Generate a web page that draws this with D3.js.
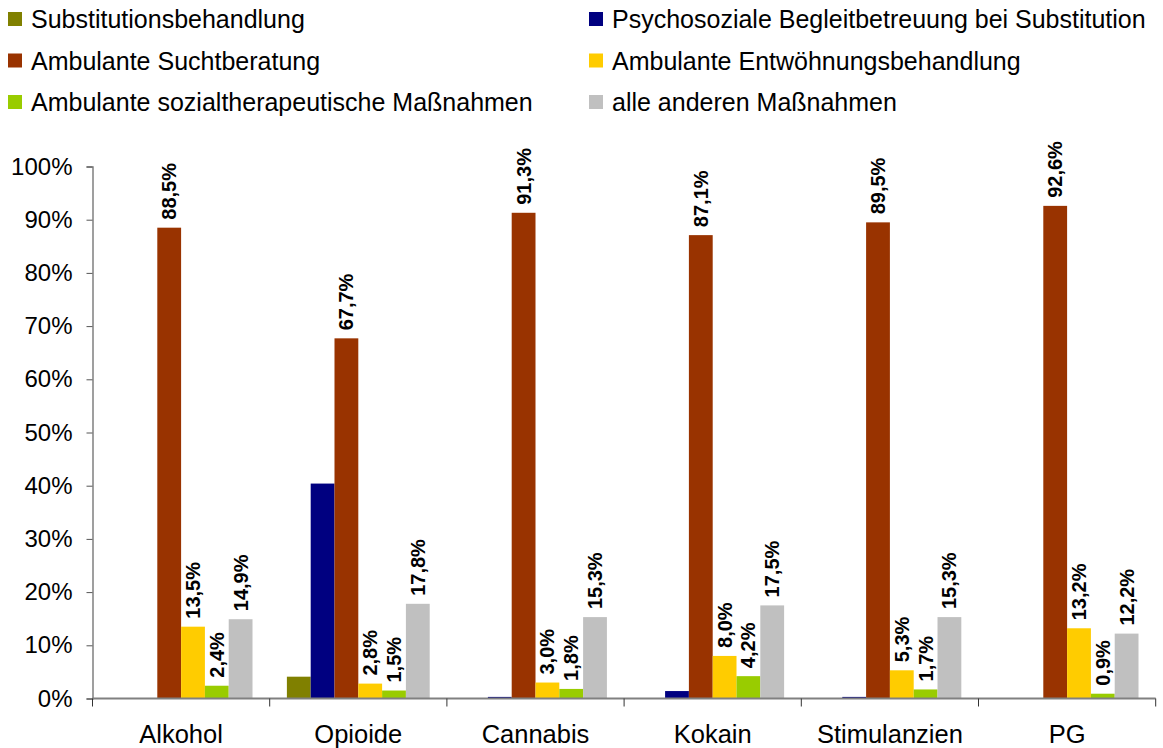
<!DOCTYPE html>
<html>
<head>
<meta charset="utf-8">
<script src="https://cdn.jsdelivr.net/npm/d3@7"></script>
<style>
  body { margin: 0; background: #fff; }
  svg { font-family: "Liberation Sans", Arial, sans-serif; }
</style>
</head>
<body>
<div id="chart"></div>
<script>
// Categories and series
const categories = ["Alkohol", "Opioide", "Cannabis", "Kokain", "Stimulanzien", "PG"];
const seriesNames = [
  "Substitutionsbehandlung",
  "Psychosoziale Begleitbetreuung bei Substitution",
  "Ambulante Suchtberatung",
  "Ambulante Entwöhnungsbehandlung",
  "Ambulante sozialtherapeutische Maßnahmen",
  "alle anderen Maßnahmen"
];
const seriesColors = ["#808000", "#000080", "#993300", "#FFCC00", "#99CC00", "#C0C0C0"];

// values in percent, per series, in category order
const substitution = [0, 4.1, 0, 0, 0, 0];
const psychosozial = [0, 40.4, 0.3, 1.4, 0.3, 0];
const suchtberatung = [88.5, 67.7, 91.3, 87.1, 89.5, 92.6];
const entwoehnung = [13.5, 2.8, 3.0, 8.0, 5.3, 13.2];
const sozialtherapie = [2.4, 1.5, 1.8, 4.2, 1.7, 0.9];
const andere = [14.9, 17.8, 15.3, 17.5, 15.3, 12.2];
const seriesValues = [substitution, psychosozial, suchtberatung, entwoehnung, sozialtherapie, andere];
// which series get a value label
const labelled = [false, false, true, true, true, true];

const yTicks = [0, 10, 20, 30, 40, 50, 60, 70, 80, 90, 100];

const W = 1163, H = 748;
const plot = {left: 92.5, right: 1155.7, top: 166.5, bottom: 698.5};

const svg = d3.select("#chart").append("svg")
    .attr("width", W)
    .attr("height", H);

// Scales
const x0 = d3.scaleBand()
    .domain(categories)
    .range([plot.left, plot.right])
    .padding(0);

const groupGap = x0.bandwidth() * 0.097;
const x1 = d3.scaleBand()
    .domain(d3.range(seriesNames.length))
    .range([groupGap, x0.bandwidth() - groupGap])
    .padding(0);

const y = d3.scaleLinear()
    .domain([0, 100])
    .range([plot.bottom, plot.top]);

// Y axis
const yAxis = svg.append("g")
    .attr("transform", `translate(${plot.left},0)`)
    .call(d3.axisLeft(y).tickValues(yTicks).tickSize(6).tickPadding(14).tickFormat(d => d + "%"));
yAxis.select(".domain").attr("stroke", "#808080").attr("stroke-width", 1.5);
yAxis.selectAll(".tick line").attr("stroke", "#555");
yAxis.selectAll("text")
    .attr("font-size", 24)
    .attr("fill", "#000")
    .attr("font-family", "Liberation Sans, Arial, sans-serif");

// Bars
const rows = [];
categories.forEach((c, ci) => {
  seriesValues.forEach((vals, si) => {
    rows.push({cat: c, s: si, v: vals[ci]});
  });
});

svg.append("g").selectAll("rect")
    .data(rows.filter(d => d.v > 0))
    .enter()
    .append("rect")
    .attr("x", d => x0(d.cat) + x1(d.s))
    .attr("y", d => y(d.v))
    .attr("width", x1.bandwidth())
    .attr("height", d => y(0) - y(d.v))
    .attr("fill", d => seriesColors[d.s]);

// Value labels, rotated
svg.append("g").selectAll("text")
    .data(rows.filter(d => labelled[d.s]))
    .enter()
    .append("text")
    .attr("transform", d => {
      const cx = x0(d.cat) + x1(d.s) + x1.bandwidth() / 2 + 7;
      return `translate(${cx},${y(d.v) - 8}) rotate(-90)`;
    })
    .attr("text-anchor", "start")
    .attr("font-size", 20)
    .attr("font-weight", "bold")
    .attr("fill", "#000")
    .text(d => d.v.toFixed(1).replace(".", ",") + "%");

// X axis
const xAxis = svg.append("g")
    .attr("transform", `translate(0,${plot.bottom})`);
xAxis.append("line")
    .attr("x1", plot.left)
    .attr("x2", plot.right)
    .attr("stroke", "#808080")
    .attr("stroke-width", 2);
const bounds = categories.map(c => x0(c)).concat([plot.right]);
xAxis.selectAll(".ctick")
    .data(bounds)
    .enter()
    .append("line")
    .attr("x1", d => d)
    .attr("x2", d => d)
    .attr("y1", 0)
    .attr("y2", 8)
    .attr("stroke", "#333");
xAxis.selectAll(".clabel")
    .data(categories)
    .enter()
    .append("text")
    .attr("x", d => x0(d) + x0.bandwidth() / 2)
    .attr("y", 44)
    .attr("text-anchor", "middle")
    .attr("font-size", 25.5)
    .attr("fill", "#000")
    .text(d => d);

// Legend: two columns, three rows
const legend = svg.append("g");
seriesNames.forEach((name, i) => {
  const col = i % 2, row = Math.floor(i / 2);
  const lx = col === 0 ? 8 : 589;
  const cy = 19 + row * 41.5;
  legend.append("rect")
      .attr("x", lx)
      .attr("y", cy - 7)
      .attr("width", 14)
      .attr("height", 14)
      .attr("fill", seriesColors[i]);
  legend.append("text")
      .attr("x", lx + 23)
      .attr("y", cy + 9)
      .attr("font-size", 25)
      .attr("fill", "#000")
      .text(name);
});
</script>
</body>
</html>
